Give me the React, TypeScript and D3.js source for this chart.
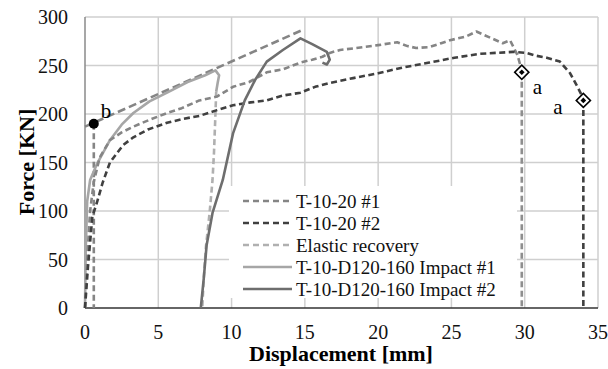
import { useEffect, useRef } from "react"
import * as d3 from "d3"

type Pt = [number, number]

// x ticks / y ticks
const xTicks = [0, 5, 10, 15, 20, 25, 30, 35]
const yTicks = [0, 50, 100, 150, 200, 250, 300]

// T-10-20 #1 (medium gray dashed)
const t1: Pt[] = [
  [0, 0], [0.15, 50], [0.35, 100], [0.6, 130], [1.0, 155], [1.7, 173], [2.5, 181], [3.3, 187],
  [4.4, 194], [5.6, 201], [6.6, 206], [7.8, 214], [9.0, 218], [10.1, 228], [11.2, 233], [12.4, 243],
  [13.5, 246], [14.7, 253], [15.5, 256], [16.2, 259], [16.7, 263], [17.4, 266], [18.5, 268], [20, 271],
  [21.3, 274], [22.0, 270], [22.6, 268], [23.5, 269], [24.3, 273], [24.9, 276], [26.0, 280], [26.7, 285],
  [27.6, 279], [28.5, 273], [29.0, 276], [29.5, 261], [29.8, 245],
]
const t1Drop: Pt[] = [[29.8, 243], [29.8, 0]]

// T-10-20 #2 (dark dashed)
const t2: Pt[] = [
  [0, 0], [0.2, 42], [0.5, 94], [0.8, 108], [1.2, 129], [1.7, 150], [2.6, 168], [3.3, 176],
  [4.3, 184], [5.6, 191], [6.7, 195], [7.8, 198], [9.0, 204], [10.1, 209], [11.3, 212], [12.4, 214],
  [13.5, 219], [14.7, 222], [15.7, 228], [16.7, 232], [18.3, 237], [20, 242], [21.7, 248], [23.5, 253],
  [25.2, 258], [26.9, 262], [28.0, 263], [29.2, 264], [30.1, 263], [30.8, 260], [31.5, 258], [32.4, 254],
  [33.1, 242], [33.6, 228], [34.0, 216],
]
const t2Drop: Pt[] = [[34.0, 214], [34.0, 0]]

// Elastic recovery (light gray dashed)
const elastic: Pt[] = [
  [8.95, 223], [8.9, 200], [8.8, 160], [8.7, 132], [8.5, 98], [8.25, 63], [8.1, 30], [8.0, 0],
]

// T-10-D120-160 Impact #1 (light gray solid)
const imp1: Pt[] = [
  [0, 0], [0.05, 60], [0.15, 110], [0.35, 132], [0.8, 148], [1.7, 173], [2.5, 189], [3.3, 201],
  [4.4, 213], [5.6, 222], [7.0, 233], [8.2, 240], [8.9, 245], [9.15, 240], [9.05, 232], [8.95, 223],
]

// T-10-D120-160 Impact #2 (dark gray solid)
const imp2: Pt[] = [
  [7.9, 0], [8.1, 30], [8.3, 65], [8.7, 98], [9.4, 132], [10.1, 180], [10.9, 214], [11.6, 235],
  [12.4, 254], [13.5, 266], [14.7, 278], [15.5, 272], [16.5, 264], [16.7, 256], [16.5, 251], [16.2, 253],
]

// annotation lines (medium gray dashed)
const slopeLine: Pt[] = [[0, 187], [14.9, 287]]
const bDrop: Pt[] = [[0.6, 190], [0.6, 0]]

const pointB: Pt = [0.6, 190]
const pointsA: Pt[] = [[29.8, 243], [34.0, 214]]

const legendItems = [
  { label: "T-10-20 #1", color: "#858585", dash: "6,3.5" },
  { label: "T-10-20 #2", color: "#404040", dash: "6,3.5" },
  { label: "Elastic recovery", color: "#b0b0b0", dash: "6,3.5" },
  { label: "T-10-D120-160 Impact #1", color: "#a6a6a6", dash: null },
  { label: "T-10-D120-160 Impact #2", color: "#6e6e6e", dash: null },
]

const App = () => {
  const svgRef = useRef<SVGSVGElement>(null)

  useEffect(() => {
    const svg = d3.select(svgRef.current)
    svg.selectAll("*").remove()

    const x = d3.scaleLinear().domain([0, 35]).range([85, 598])
    const y = d3.scaleLinear().domain([0, 300]).range([308, 17])
    const font = "'Liberation Serif', 'Times New Roman', serif"

    // grid
    svg.append("g")
      .selectAll("line")
      .data(yTicks.filter((d) => d > 0))
      .join("line")
      .attr("x1", x(0)).attr("x2", x(35))
      .attr("y1", (d) => y(d)).attr("y2", (d) => y(d))
      .attr("stroke", "#cfcfcf").attr("stroke-width", 1.5)
    svg.append("g")
      .selectAll("line")
      .data(xTicks.filter((d) => d > 0))
      .join("line")
      .attr("x1", (d) => x(d)).attr("x2", (d) => x(d))
      .attr("y1", y(0)).attr("y2", y(300))
      .attr("stroke", "#cfcfcf").attr("stroke-width", 1.5)

    // axes lines
    svg.append("line").attr("x1", x(0)).attr("x2", x(0)).attr("y1", y(0)).attr("y2", y(300))
      .attr("stroke", "#8a8a8a").attr("stroke-width", 1.5)
    svg.append("line").attr("x1", x(0)).attr("x2", x(35)).attr("y1", y(0)).attr("y2", y(0))
      .attr("stroke", "#333").attr("stroke-width", 1.5)

    // tick labels
    svg.append("g")
      .selectAll("text")
      .data(yTicks)
      .join("text")
      .attr("x", 68).attr("y", (d) => y(d)).attr("dy", "0.35em")
      .attr("text-anchor", "end")
      .style("font-family", font).style("font-size", "20px").style("fill", "#111")
      .text((d) => d)
    svg.append("g")
      .selectAll("text")
      .data(xTicks)
      .join("text")
      .attr("x", (d) => x(d)).attr("y", 339)
      .attr("text-anchor", "middle")
      .style("font-family", font).style("font-size", "20px").style("fill", "#111")
      .text((d) => d)

    // axis titles
    svg.append("text")
      .attr("x", 341).attr("y", 361)
      .attr("text-anchor", "middle")
      .style("font-family", font).style("font-size", "22px").style("font-weight", "bold")
      .text("Displacement [mm]")
    svg.append("text")
      .attr("transform", `translate(34,162) rotate(-90)`)
      .attr("text-anchor", "middle")
      .style("font-family", font).style("font-size", "22px").style("font-weight", "bold")
      .text("Force [KN]")

    // legend background
    svg.append("rect").attr("x", 229).attr("y", 186).attr("width", 288).attr("height", 112).attr("fill", "white")

    const line = d3.line<Pt>().x((d) => x(d[0])).y((d) => y(d[1]))

    const draw = (data: Pt[], color: string, dash: string | null, w = 2.6) => {
      const p = svg.append("path").datum(data)
        .attr("fill", "none").attr("stroke", color).attr("stroke-width", w)
        .attr("stroke-linejoin", "round")
        .attr("d", line)
      if (dash) p.attr("stroke-dasharray", dash)
    }

    draw(bDrop, "#858585", "6,3.5")
    draw(slopeLine, "#858585", "8,4")
    draw(imp1, "#a6a6a6", null)
    draw(elastic, "#b0b0b0", "6,3.5")
    draw(t1, "#858585", "6,3.5")
    draw(t1Drop, "#8e8e8e", "6,3.5")
    draw(t2, "#404040", "6,3.5")
    draw(t2Drop, "#404040", "6,3.5")
    draw(imp2, "#6e6e6e", null)

    // markers
    svg.append("circle").attr("cx", x(pointB[0])).attr("cy", y(pointB[1])).attr("r", 5).attr("fill", "#000")
    svg.append("text").attr("x", x(pointB[0]) + 7).attr("y", y(pointB[1]) - 6)
      .style("font-family", font).style("font-size", "21px").text("b")

    pointsA.forEach(([px, py], i) => {
      const cx = x(px), cy = y(py)
      svg.append("rect").attr("x", -5).attr("y", -5).attr("width", 10).attr("height", 10)
        .attr("transform", `translate(${cx},${cy}) rotate(45)`)
        .attr("fill", "white").attr("stroke", "#000").attr("stroke-width", 1.6)
      svg.append("rect").attr("x", -2).attr("y", -2).attr("width", 4).attr("height", 4)
        .attr("transform", `translate(${cx},${cy}) rotate(45)`)
        .attr("fill", "#000")
      svg.append("text")
        .attr("x", i === 0 ? cx + 11 : cx - 30).attr("y", i === 0 ? cy + 22 : cy + 14)
        .style("font-family", font).style("font-size", "21px").text("a")
    })

    // legend
    const lg = svg.append("g")
    legendItems.forEach((item, i) => {
      const ly = 201 + i * 22
      const l = lg.append("line").attr("x1", 243).attr("x2", 292).attr("y1", ly).attr("y2", ly)
        .attr("stroke", item.color).attr("stroke-width", 2.6)
      if (item.dash) l.attr("stroke-dasharray", "6,4")
      lg.append("text").attr("x", 296).attr("y", ly).attr("dy", "0.35em")
        .style("font-family", font).style("font-size", "19px").style("fill", "#111")
        .text(item.label)
    })
  }, [])

  return (
    <svg
      ref={svgRef}
      width={608}
      height={369}
      style={{ position: "absolute", left: 0, top: 0, background: "white" }}
    ></svg>
  )
}

export default App
